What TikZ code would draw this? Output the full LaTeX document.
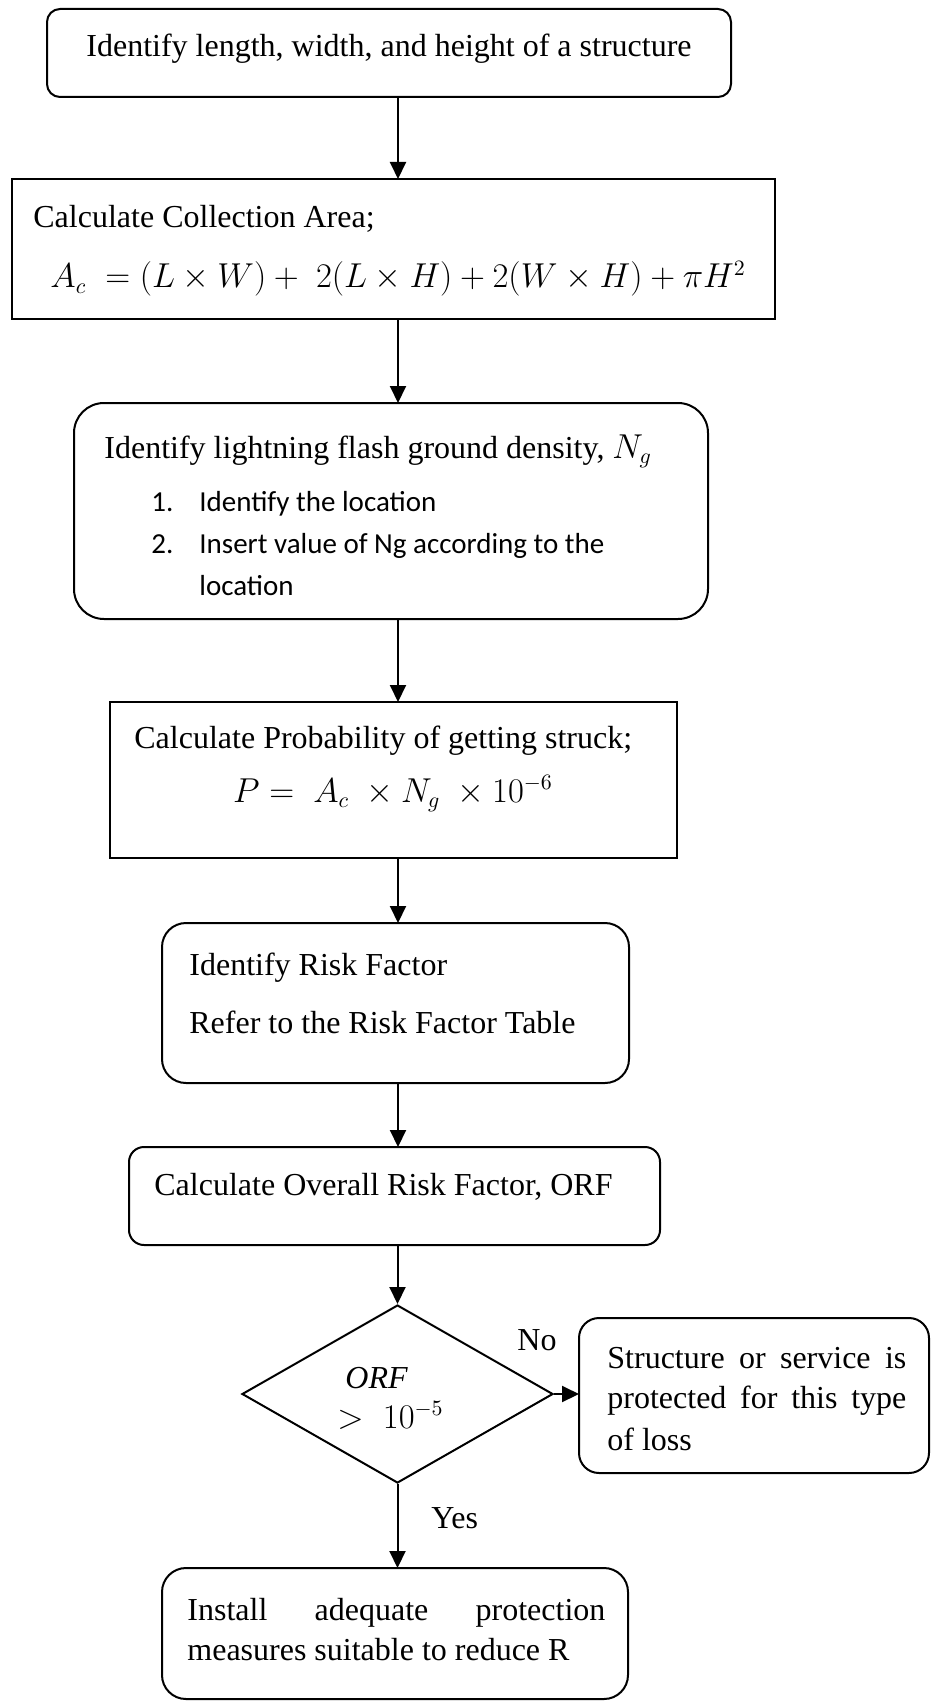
\documentclass[tikz,border=0pt]{standalone}
\usepackage{fontspec}
\setmainfont{Liberation Serif}
\newfontfamily\calib{Carlito}
\usetikzlibrary{arrows.meta,shapes.geometric}
\begin{document}
\begin{tikzpicture}[x=0.5pt,y=-0.5pt,
  frame/.style={draw, line width=1pt, inner sep=0pt, outer sep=0pt},
  rframe/.style={frame, rounded corners=#1},
  txt/.style={inner sep=0pt, anchor=base west, font=\fontsize{16}{19}\selectfont},
  ctxt/.style={inner sep=0pt, anchor=base, font=\fontsize{16}{19}\selectfont},
  ltxt/.style={inner sep=0pt, anchor=base west, font=\calib\fontsize{14.5}{17}\selectfont},
  arr/.style={-{Triangle[width=8pt,length=8.5pt]}, line width=1pt}
]
\useasboundingbox (0,0) rectangle (931,1701);
\coordinate (axis) at (398,0);

\node[rframe=6.5pt, minimum width=342pt, minimum height=44pt] (b1) at (389,53) {};
\node[txt] (t1) at (86,57) {Identify length, width, and height of a structure};

\node[frame, minimum width=381.5pt, minimum height=70pt] (b2) at (393.5,249) {};
\node[txt] (t2a) at (33,228) {Calculate Collection Area;};
\node[txt] (t2b) at (50,288) {$A_c\;=(L\times W)+\;2(L\times H)+2(W\times H)+\pi H^2$};

\node[rframe=15pt, minimum width=317pt, minimum height=108pt] (b3) at (391,511) {};
\node[txt] (t3a) at (104,458) {Identify lightning flash ground density, $N_g$};
\node[ltxt] (t3b) at (151,511) {1.};
\node[ltxt] (t3c) at (199,511) {Identify the location};
\node[ltxt] (t3d) at (151,553) {2.};
\node[ltxt] (t3e) at (199,553) {Insert value of Ng according to the};
\node[ltxt] (t3f) at (199,595) {location};

\node[frame, minimum width=283.5pt, minimum height=78pt] (b4) at (393.5,780) {};
\node[txt] (t4a) at (134,748) {Calculate Probability of getting struck;};
\node[ctxt] (t4b) at (393,802) {$P=\;A_c\;\times N_g\;\times 10^{-6}$};

\node[rframe=12pt, minimum width=233.5pt, minimum height=80pt] (b5) at (395.5,1003) {};
\node[txt] (t5a) at (189,975) {Identify Risk Factor};
\node[txt] (t5b) at (189,1033) {Refer to the Risk Factor Table};

\node[rframe=7.5pt, minimum width=265.5pt, minimum height=49pt] (b6) at (394.5,1196) {};
\node[txt] (t6) at (154,1195) {Calculate Overall Risk Factor, ORF};

\node[draw, diamond, line width=1pt, inner sep=0pt, minimum width=155.5pt, minimum height=89pt] (d) at (397.5,1394) {};
\node[txt] (t7a) at (345,1388) {$\mathit{ORF}$};
\node[txt] (t7b) at (337,1428) {$>\;10^{-5}$};
\node[txt] (no) at (517,1350) {No};

\node[rframe=10pt, minimum width=175pt, minimum height=77.5pt] (b7) at (754,1395.5) {};
\node[txt] (t8a) at (607,1368) {\hbox to 149.5pt{Structure\hfill or\hfill service\hfill is}};
\node[txt] (t8b) at (607,1408) {\hbox to 149.5pt{protected\hfill for\hfill this\hfill type}};
\node[txt] (t8c) at (607,1450) {of loss};

\node[txt] (yes) at (431,1528) {Yes};

\node[rframe=12pt, minimum width=233pt, minimum height=65.5pt] (b8) at (395,1633.5) {};
\node[txt] (t9a) at (187,1620) {\hbox to 209pt{Install\hfill adequate\hfill protection}};
\node[txt] (t9b) at (187,1660) {measures suitable to reduce R};

\draw[arr] (b1.south -| axis) -- (b2.north -| axis);
\draw[arr] (b2.south -| axis) -- (b3.north -| axis);
\draw[arr] (b3.south -| axis) -- (b4.north -| axis);
\draw[arr] (b4.south -| axis) -- (b5.north -| axis);
\draw[arr] (b5.south -| axis) -- (b6.north -| axis);
\draw[arr] (b6.south -| d.north) -- (d.north);
\draw[arr] (d.east) -- (d.east -| b7.west);
\draw[arr] (d.south) -- (d.south |- b8.north);
\end{tikzpicture}
\end{document}
